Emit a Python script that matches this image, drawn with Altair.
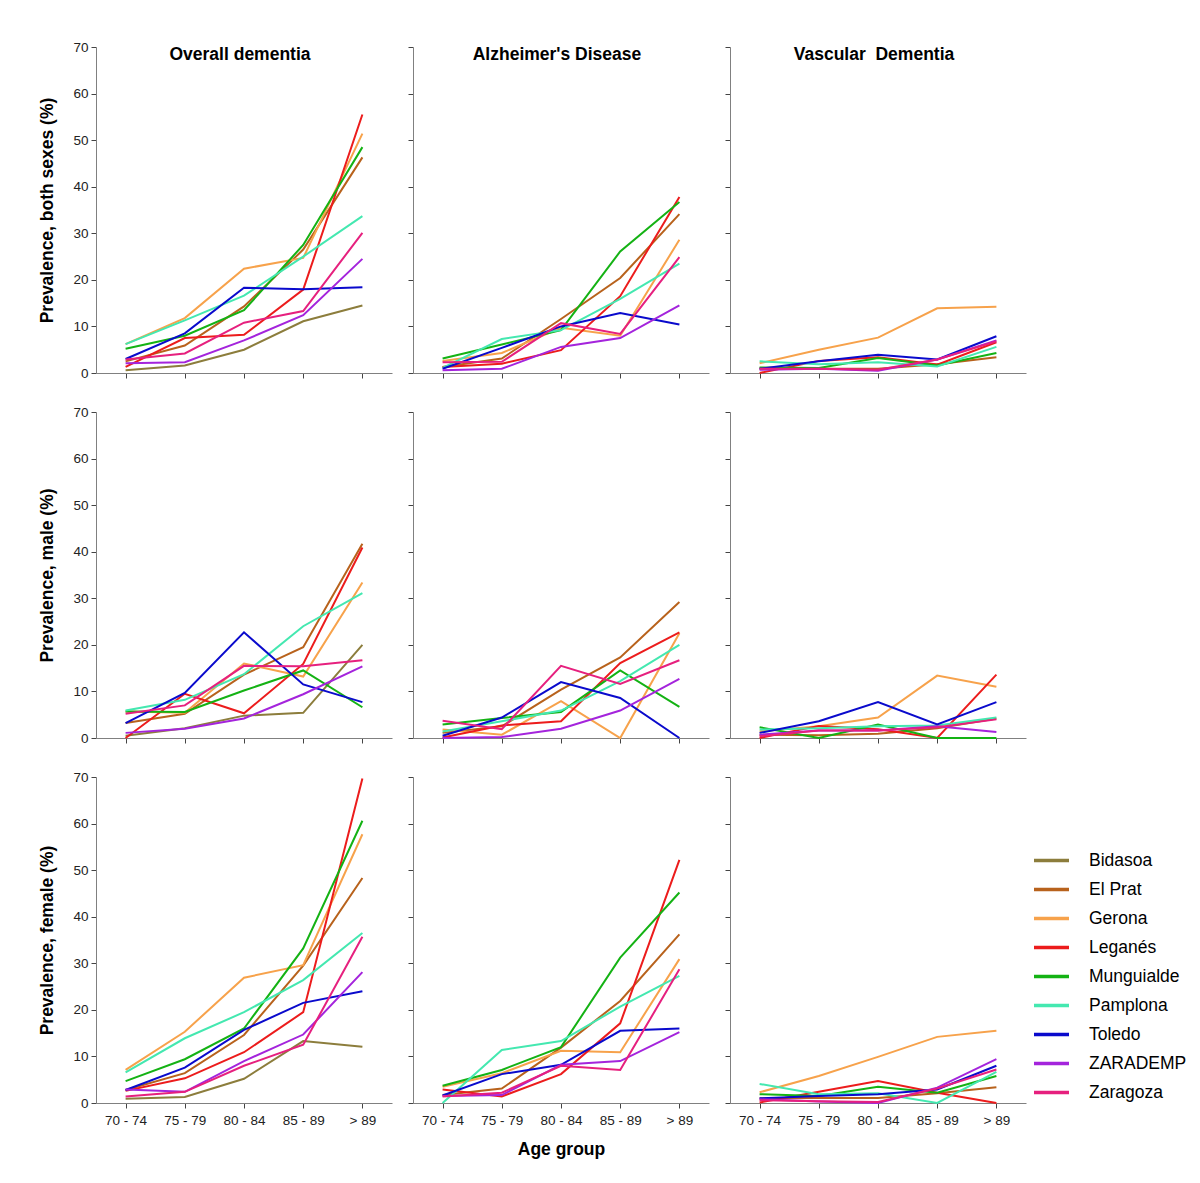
import altair as alt
import pandas as pd

SITES = ["Bidasoa", "El Prat", "Gerona", "Leganés", "Munguialde",
         "Pamplona", "Toledo", "ZARADEMP", "Zaragoza"]
COLORS = ["#8c7d3c", "#b8621c", "#f7a24b", "#ec1c1c", "#14b214",
          "#44e8b0", "#0a0acc", "#a424dc", "#e6207e"]
AGES = ["70 - 74", "75 - 79", "80 - 84", "85 - 89", "> 89"]
TYPES = ["Overall dementia", "Alzheimer's Disease", "Vascular\u00a0 Dementia"]
SEXES = ["both sexes", "male", "female"]

# one list per site, in SITES order; None = not reported
OD_BOTH = [[0.6, 1.6, 5.0, 11.1, 14.5], [2.5, 5.9, 14.3, 26.5, 46.3],
           [6.2, 11.8, 22.4, 24.7, 51.4], [1.3, 7.5, 8.2, 17.9, 55.5],
           [5.2, 8.0, 13.5, 27.5, 48.5], [6.2, 11.3, 16.6, 25.0, 33.7],
           [3.0, 8.5, 18.3, 18.0, 18.4], [2.1, 2.3, 7.0, 12.4, 24.5],
           [2.9, 4.2, 10.8, 13.3, 30.1]]
AD_BOTH = [None, [1.3, 3.1, 11.6, 20.4, 34.1],
           [2.6, 4.3, 9.7, 8.0, 28.6], [1.3, 2.0, 4.9, 16.5, 37.8],
           [3.1, 6.1, 9.2, 26.1, 36.7], [1.1, 7.3, 9.2, 15.9, 23.5],
           [0.9, 5.4, 10.0, 12.9, 10.4], [0.6, 0.9, 5.6, 7.5, 14.5],
           [2.3, 2.4, 10.7, 8.4, 24.9]]
VD_BOTH = [None, [1.0, 0.9, 0.9, 1.9, 3.4],
           [2.1, 5.0, 7.6, 13.9, 14.2], [0.0, 2.6, 3.4, 1.8, 6.6],
           [1.2, 1.1, 3.2, 1.6, 4.3], [2.5, 1.9, 2.3, 1.4, 5.6],
           [0.9, 2.5, 3.9, 2.9, 7.9], [0.7, 0.9, 0.5, 2.9, 7.0],
           [0.9, 0.9, 0.7, 2.9, 6.8]]
OD_MALE = [[0.5, 2.1, 4.8, 5.4, 20.0], [3.2, 5.2, 13.6, 19.5, 41.7],
           [5.7, 5.4, 16.0, 13.2, 33.4], [0.0, 9.5, 5.3, 15.9, 40.9],
           [5.7, 5.6, 10.2, 14.5, 6.6], [5.9, 8.2, 13.7, 24.0, 31.1],
           [3.2, 9.7, 22.7, 11.5, 7.7], [1.1, 2.0, 4.2, 9.4, 15.4],
           [5.2, 7.0, 15.5, 15.4, 16.7]]
AD_MALE = [None, [1.1, 2.5, 10.4, 17.3, 29.2],
           [1.8, 0.7, 7.9, 0.0, 22.5], [0.1, 2.7, 3.6, 16.1, 22.7],
           [2.9, 4.3, 5.6, 14.5, 6.7], [1.4, 3.6, 5.9, 12.2, 20.0],
           [0.5, 4.4, 12.0, 8.6, 0.0], [0.0, 0.2, 2.0, 5.9, 12.7],
           [3.7, 1.9, 15.5, 11.6, 16.7]]
VD_MALE = [None, [0.7, 0.6, 0.9, 2.1, 4.2],
           [1.4, 2.5, 4.4, 13.4, 11.0], [0.0, 2.6, 1.9, 0.0, 13.6],
           [2.3, 0.0, 2.9, 0.0, 0.0], [1.8, 2.1, 2.5, 2.7, 4.4],
           [1.1, 3.6, 7.7, 2.9, 7.7], [0.7, 1.6, 1.6, 2.5, 1.3],
           [0.4, 1.6, 1.6, 2.3, 4.0]]
OD_FEMALE = [[0.9, 1.3, 5.2, 13.3, 12.1], [2.8, 6.4, 14.6, 29.5, 48.3],
             [7.1, 15.3, 26.9, 29.6, 57.7], [2.6, 5.3, 10.9, 19.5, 69.7],
             [4.7, 9.4, 16.0, 33.2, 60.6], [6.6, 13.9, 19.5, 26.4, 36.5],
             [2.8, 7.6, 15.7, 21.5, 24.0], [2.9, 2.4, 9.0, 14.7, 28.1],
             [1.4, 2.4, 8.0, 12.5, 35.7]]
AD_FEMALE = [None, [1.7, 3.1, 11.9, 21.9, 36.2],
             [3.5, 6.4, 11.2, 10.9, 30.9], [2.9, 1.4, 6.2, 17.1, 52.2],
             [3.7, 7.1, 12.0, 31.2, 45.2], [0.0, 11.4, 13.3, 20.7, 27.3],
             [1.6, 6.2, 8.2, 15.5, 16.0], [1.5, 1.7, 8.2, 9.0, 15.2],
             [1.4, 2.2, 8.0, 7.1, 28.7]]
VD_FEMALE = [None, [1.0, 1.1, 1.1, 2.1, 3.4],
             [2.3, 5.8, 9.9, 14.2, 15.5], [0.1, 2.4, 4.7, 2.2, 0.0],
             [1.9, 1.5, 3.5, 2.2, 5.8], [4.1, 1.9, 2.1, 0.0, 6.7],
             [1.0, 1.5, 1.9, 2.9, 8.0], [0.8, 0.3, 0.0, 3.3, 9.4],
             [0.6, 0.4, 0.2, 3.1, 7.2]]

PANELS = [[OD_BOTH, AD_BOTH, VD_BOTH],
          [OD_MALE, AD_MALE, VD_MALE],
          [OD_FEMALE, AD_FEMALE, VD_FEMALE]]

FONT = "Liberation Sans"
W, H = 296, 326


def panel(r, c):
    rows = []
    for site, vals in zip(SITES, PANELS[r][c]):
        if vals is None:
            continue
        for age, v in zip(AGES, vals):
            rows.append({"site": site, "age": age, "value": v})
    df = pd.DataFrame(rows)

    if r == 2 and c == 1:
        x_axis = alt.Axis(labels=True, title="Age group", labelAngle=0,
                          labelPadding=5, titlePadding=14)
    else:
        x_axis = alt.Axis(labels=(r == 2), title=None, labelAngle=0,
                          labelPadding=5)
    if c == 0:
        y_axis = alt.Axis(labels=True, title=f"Prevalence, {SEXES[r]} (%)",
                          values=list(range(0, 71, 10)), labelPadding=3,
                          titlePadding=16)
    else:
        y_axis = alt.Axis(labels=False, title=None,
                          values=list(range(0, 71, 10)))

    lines = alt.Chart(df).mark_line(strokeWidth=2).encode(
        x=alt.X("age:N", sort=AGES,
                scale=alt.Scale(type="point", padding=0.5, domain=AGES),
                axis=x_axis),
        y=alt.Y("value:Q", scale=alt.Scale(domain=[0, 70], nice=False),
                axis=y_axis),
        color=alt.Color("site:N", sort=SITES,
                        scale=alt.Scale(domain=SITES, range=COLORS),
                        title=None),
    )
    ch = lines
    if r == 0:
        t = alt.Chart(pd.DataFrame({"t": [TYPES[c]]})).mark_text(
            font=FONT, fontSize=17.5, fontWeight="bold", color="#000000",
            baseline="middle", align="center"
        ).encode(text="t:N", x=alt.value(W / 2 - 4), y=alt.value(8))
        ch = alt.layer(lines, t)
    return ch.properties(width=W, height=H)


rows = [alt.hconcat(*[panel(r, c) for c in range(3)], spacing=15)
        for r in range(3)]
chart = alt.vconcat(*rows, spacing=25).properties(
    padding={"left": 30, "top": 32, "right": 5, "bottom": 5},
    background="white",
).configure_view(stroke=None).configure_axis(
    grid=False,
    domainColor="#808080",
    tickColor="#444444",
    tickSize=5,
    labelFont=FONT,
    labelFontSize=13.5,
    labelColor="#222222",
    titleFont=FONT,
    titleFontSize=17.5,
    titleFontWeight="bold",
    titleColor="#000000",
).configure_legend(
    orient="none",
    legendX=936,
    legendY=794,
    symbolType="stroke",
    symbolSize=1225,
    symbolStrokeWidth=3.5,
    labelFont=FONT,
    labelFontSize=17.5,
    labelColor="#000000",
    labelOffset=18,
    rowPadding=1,
)

chart.save("out.html", embed_options={"renderer": "svg", "actions": False})
